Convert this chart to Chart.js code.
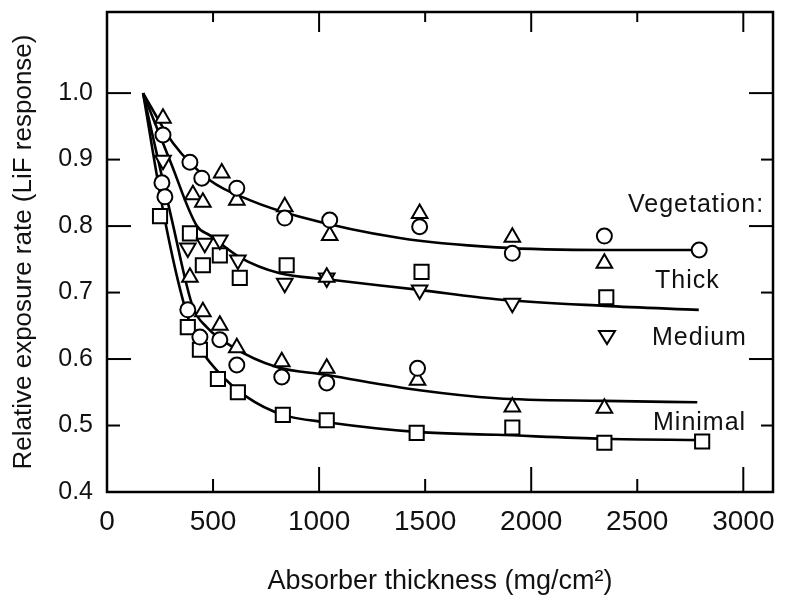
<!DOCTYPE html>
<html>
<head>
<meta charset="utf-8">
<script src="https://cdn.jsdelivr.net/npm/chart.js@4/dist/chart.umd.min.js"></script>
<style>
  html, body { margin: 0; padding: 0; background: #fff; }
  #wrap { width: 786px; height: 598px; }
</style>
</head>
<body>
<div id="wrap"><canvas id="chart" width="786" height="598"></canvas></div>
<script>
// fitted curves (absorber thickness, relative rate)
const curveTopX = [170, 311, 485, 673, 909, 1380, 1836, 2345, 2790];
const curveTopY = [1.0, 0.925, 0.869, 0.839, 0.814, 0.782, 0.768, 0.764, 0.764];
const curveMidX = [170, 300, 424, 485, 626, 815, 1036, 1474, 1836, 2345, 2790];
const curveMidY = [1.0, 0.896, 0.80, 0.786, 0.753, 0.729, 0.720, 0.704, 0.690, 0.680, 0.674];
const curveLowX = [170, 306, 405, 470, 593, 800, 1036, 1474, 1836, 2345, 2783];
const curveLowY = [1.0, 0.809, 0.678, 0.648, 0.618, 0.588, 0.576, 0.553, 0.541, 0.537, 0.535];
const curveMinX = [170, 273, 367, 438, 518, 659, 829, 1036, 1474, 1836, 2345, 2806];
const curveMinY = [1.0, 0.809, 0.678, 0.618, 0.583, 0.543, 0.516, 0.505, 0.490, 0.486, 0.480, 0.478];

// measured points by symbol
const circleX = [264, 391, 447, 612, 838, 1050, 1474, 1911, 2345, 2792, 259, 273, 381, 438, 532, 612, 824, 1036, 1464];
const circleY = [0.937, 0.896, 0.872, 0.857, 0.812, 0.809, 0.799, 0.759, 0.785, 0.764, 0.865, 0.844, 0.674, 0.633, 0.629, 0.591, 0.573, 0.564, 0.586];
const triUpX = [264, 541, 612, 405, 452, 838, 1050, 1474, 1911, 2345, 391, 452, 532, 612, 824, 1036, 1464, 1911, 2345, 1036];
const triUpY = [0.962, 0.880, 0.839, 0.847, 0.836, 0.829, 0.786, 0.819, 0.783, 0.744, 0.723, 0.671, 0.651, 0.617, 0.596, 0.586, 0.568, 0.528, 0.526, 0.723];
const triDownX = [264, 381, 461, 532, 617, 838, 1036, 1474, 1911];
const triDownY = [0.899, 0.767, 0.774, 0.779, 0.749, 0.714, 0.722, 0.704, 0.684];
const squareX = [250, 391, 452, 532, 626, 847, 1483, 2354, 381, 438, 523, 617, 829, 1036, 1460, 1911, 2345, 2806];
const squareY = [0.815, 0.789, 0.741, 0.756, 0.722, 0.741, 0.731, 0.693, 0.648, 0.614, 0.570, 0.550, 0.516, 0.508, 0.489, 0.497, 0.474, 0.476];

const xTicks = [0, 500, 1000, 1500, 2000, 2500, 3000];
const yTicks = [0.4, 0.5, 0.6, 0.7, 0.8, 0.9, 1.0];

function pts(xs, ys) { return xs.map((x, i) => ({ x: x, y: ys[i] })); }

function curve(xs, ys) {
  return {
    type: 'line', data: pts(xs, ys), borderColor: '#000', borderWidth: 2.6,
    pointRadius: 0, fill: false, cubicInterpolationMode: 'monotone', order: 2
  };
}
function marks(xs, ys, style, r, rot) {
  return {
    type: 'scatter', data: pts(xs, ys), pointStyle: style, pointRadius: r,
    pointRotation: rot || 0, pointBackgroundColor: '#fff', pointBorderColor: '#000',
    pointBorderWidth: 2, order: 1
  };
}

const frame = {
  id: 'frame',
  afterDraw(chart) {
    const { ctx, chartArea: a, scales } = chart;
    ctx.save();
    ctx.strokeStyle = '#000';
    ctx.lineWidth = 2.5;
    ctx.strokeRect(a.left, a.top, a.right - a.left, a.bottom - a.top);
    ctx.lineWidth = 2;
    xTicks.forEach(v => {
      const px = scales.x.getPixelForValue(v);
      const big = v % 1000 === 0;
      ctx.beginPath(); ctx.moveTo(px, a.bottom); ctx.lineTo(px, a.bottom - (big ? 25 : 13)); ctx.stroke();
      ctx.beginPath(); ctx.moveTo(px, a.top); ctx.lineTo(px, a.top + (big ? 20 : 10)); ctx.stroke();
    });
    yTicks.forEach(v => {
      const py = scales.y.getPixelForValue(v);
      const big = Math.round(v * 10) % 2 === 0;
      ctx.beginPath(); ctx.moveTo(a.left, py); ctx.lineTo(a.left + (big ? 24 : 13), py); ctx.stroke();
      ctx.beginPath(); ctx.moveTo(a.right, py); ctx.lineTo(a.right - (big ? 24 : 12), py); ctx.stroke();
    });
    // legend text
    ctx.fillStyle = '#111';
    ctx.font = '25px "Liberation Sans", Arial, sans-serif';
    ctx.letterSpacing = '1px';
    ctx.textBaseline = 'middle';
    ctx.textAlign = 'left';
    ctx.fillText('Vegetation:', 628, 205);
    ctx.fillText('Thick', 655, 281);
    ctx.fillText('Medium', 652, 338);
    ctx.fillText('Minimal', 653, 423);
    ctx.lineWidth = 2;
    ctx.beginPath();
    ctx.moveTo(599, 331); ctx.lineTo(615, 331); ctx.lineTo(607, 344); ctx.closePath();
    ctx.stroke();
    ctx.restore();
  }
};

new Chart(document.getElementById('chart'), {
  data: {
    datasets: [
      curve(curveTopX, curveTopY),
      curve(curveMidX, curveMidY),
      curve(curveLowX, curveLowY),
      curve(curveMinX, curveMinY),
      marks(circleX, circleY, 'circle', 7.5),
      marks(triUpX, triUpY, 'triangle', 9),
      marks(triDownX, triDownY, 'triangle', 9, 180),
      marks(squareX, squareY, 'rect', 10)
    ]
  },
  options: {
    responsive: false,
    animation: false,
    layout: { padding: { top: 12, right: 13, left: 0, bottom: 0 } },
    plugins: { legend: { display: false }, tooltip: { enabled: false } },
    scales: {
      x: {
        type: 'linear', min: 0, max: 3140,
        grid: { display: false, drawTicks: false },
        border: { display: false },
        afterBuildTicks(s) { s.ticks = xTicks.map(v => ({ value: v })); },
        afterFit(s) { s.height = 106; s.paddingLeft = 0; s.paddingRight = 0; },
        ticks: {
          autoSkip: false, maxRotation: 0, padding: 13, color: '#111',
          font: { family: '"Liberation Sans", Arial', size: 28 },
          callback: v => String(v)
        },
        title: {
          display: true, text: 'Absorber thickness (mg/cm²)', color: '#111',
          font: { family: '"Liberation Sans", Arial', size: 27 },
          padding: { top: 16, bottom: 0 }
        }
      },
      y: {
        type: 'linear', min: 0.4, max: 1.122,
        grid: { display: false, drawTicks: false },
        border: { display: false },
        afterBuildTicks(s) { s.ticks = yTicks.map(v => ({ value: v })); },
        afterFit(s) { s.width = 107; s.paddingTop = 0; s.paddingBottom = 0; },
        ticks: {
          autoSkip: false, padding: 14, color: '#111',
          font: { family: '"Liberation Sans", Arial', size: 25 },
          callback: v => v.toFixed(1)
        },
        title: {
          display: true, text: 'Relative exposure rate (LiF response)', color: '#111',
          font: { family: '"Liberation Sans", Arial', size: 26 },
          padding: { top: 8, bottom: 0 }
        }
      }
    }
  },
  plugins: [frame]
});
</script>
</body>
</html>
